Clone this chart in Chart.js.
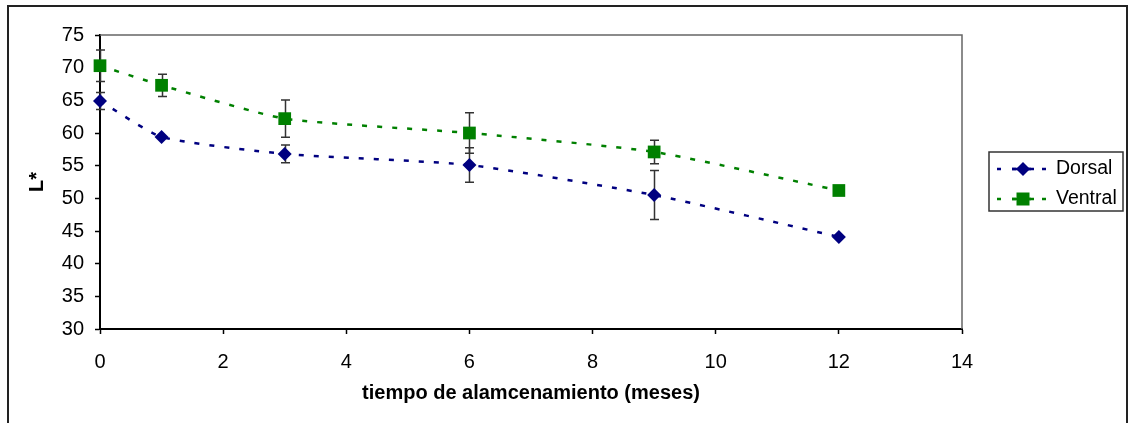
<!DOCTYPE html>
<html lang="es">
<head>
  <meta charset="UTF-8" />
  <title>L* vs tiempo de almacenamiento</title>
  <script src="https://cdn.jsdelivr.net/npm/chart.js"></script>
  <style>
    html, body { margin: 0; padding: 0; background: #fff; }
    #wrap { width: 1128px; height: 423px; position: relative; }
  </style>
</head>
<body>
  <div id="wrap"><canvas id="chart"></canvas></div>

  <script>
    // data
    const months = [0, 1, 3, 6, 9, 12];
    const dorsal = [64.9, 59.4, 56.8, 55.1, 50.5, 44.1];
    const dorsalErr = [1.3, 0, 1.35, 2.65, 3.75, 0];
    const ventral = [70.3, 67.3, 62.2, 60.0, 57.1, 51.2];
    const ventralErr = [2.4, 1.7, 2.85, 3.1, 1.8, 0];
    const seriesNames = ["Dorsal", "Ventral"];
    const seriesColors = ["#000080", "#008000"];
    const xTicks = { min: 0, max: 14, step: 2 };
    const yTicks = { min: 30, max: 75, step: 5 };

    const FONT = "'Liberation Sans', Arial, sans-serif";
    const DASH = [5, 10];

    const toPoints = vals => months.map((m, i) => ({ x: m, y: vals[i] }));

    // draws the error bars under the markers
    const errorBars = {
      id: "errorBars",
      beforeDatasetsDraw(chart) {
        const { ctx, scales: { x, y } } = chart;
        const errs = [dorsalErr, ventralErr];
        const vals = [dorsal, ventral];
        ctx.save();
        ctx.strokeStyle = "#333";
        ctx.lineWidth = 1.5;
        errs.forEach((err, s) => {
          err.forEach((e, i) => {
            if (!e) return;
            const px = Math.round(x.getPixelForValue(months[i])) + 0.5;
            const top = y.getPixelForValue(vals[s][i] + e);
            const bot = y.getPixelForValue(vals[s][i] - e);
            ctx.beginPath();
            ctx.moveTo(px, top); ctx.lineTo(px, bot);
            ctx.moveTo(px - 4.5, top); ctx.lineTo(px + 4.5, top);
            ctx.moveTo(px - 4.5, bot); ctx.lineTo(px + 4.5, bot);
            ctx.stroke();
          });
        });
        ctx.restore();
      }
    };

    // outer frame, plot frame and the boxed legend
    const frame = {
      id: "frame",
      beforeDraw(chart) {
        const { ctx, width, height } = chart;
        ctx.save();
        ctx.fillStyle = "#fff";
        ctx.fillRect(0, 0, width, height);
        ctx.restore();
      },
      beforeDatasetsDraw(chart) {
        const { ctx, chartArea: a } = chart;
        ctx.save();
        ctx.strokeStyle = "#666";
        ctx.lineWidth = 1.5;
        ctx.beginPath();
        ctx.moveTo(a.left, a.top); ctx.lineTo(a.right, a.top); ctx.lineTo(a.right, a.bottom);
        ctx.stroke();
        ctx.restore();
      },
      afterDraw(chart) {
        const { ctx } = chart;
        ctx.save();
        ctx.strokeStyle = "#222";
        ctx.lineWidth = 2;
        ctx.strokeRect(8, 6, 1119, 440);

        // legend
        ctx.strokeStyle = "#333";
        ctx.lineWidth = 1.5;
        ctx.strokeRect(989, 152, 134, 59);
        chart.data.datasets.forEach((ds, i) => {
          const cy = 169 + i * 30;
          ctx.strokeStyle = ds.borderColor;
          ctx.lineWidth = 2.5;
          ctx.setLineDash([4, 11]);
          ctx.beginPath();
          ctx.moveTo(997, cy); ctx.lineTo(1049, cy);
          ctx.stroke();
          ctx.setLineDash([]);
          ctx.beginPath();
          ctx.moveTo(1012, cy); ctx.lineTo(1034, cy);
          ctx.stroke();
          ctx.fillStyle = ds.backgroundColor;
          ctx.beginPath();
          if (ds.pointStyle === "rectRot") {
            ctx.moveTo(1023 - 7, cy); ctx.lineTo(1023, cy - 7);
            ctx.lineTo(1023 + 7, cy); ctx.lineTo(1023, cy + 7);
          } else {
            ctx.rect(1023 - 6.5, cy - 6.5, 13, 13);
          }
          ctx.closePath();
          ctx.fill();
          ctx.fillStyle = "#000";
          ctx.font = "19.5px " + FONT;
          ctx.textBaseline = "middle";
          ctx.textAlign = "left";
          ctx.fillText(ds.label, 1056, cy);
        });
        ctx.restore();
      }
    };

    new Chart(document.getElementById("chart"), {
      type: "line",
      data: {
        datasets: [
          {
            label: seriesNames[0],
            data: toPoints(dorsal),
            borderColor: seriesColors[0],
            backgroundColor: seriesColors[0],
            borderWidth: 2.5,
            borderDash: DASH,
            tension: 0.18,
            clip: false,
            pointStyle: "rectRot",
            pointRadius: 7,
            pointBorderWidth: 0
          },
          {
            label: seriesNames[1],
            data: toPoints(ventral),
            borderColor: seriesColors[1],
            backgroundColor: seriesColors[1],
            borderWidth: 2.5,
            borderDash: DASH,
            tension: 0.18,
            clip: false,
            pointStyle: "rect",
            pointRadius: 9,
            pointBorderWidth: 0
          }
        ]
      },
      options: {
        responsive: true,
        maintainAspectRatio: false,
        animation: false,
        layout: { padding: { top: 35, right: 166, left: 0, bottom: 0 } },
        plugins: {
          legend: { display: false },
          tooltip: { enabled: false }
        },
        scales: {
          x: {
            type: "linear",
            min: xTicks.min,
            max: xTicks.max,
            ticks: { stepSize: xTicks.step, color: "#000", font: { family: FONT, size: 20 }, padding: 16, maxRotation: 0 },
            grid: { drawOnChartArea: false, drawTicks: true, tickLength: 5, tickColor: "#000", tickWidth: 1.5 },
            border: { color: "#000", width: 2 },
            title: {
              display: true,
              text: "tiempo de alamcenamiento (meses)",
              color: "#000",
              font: { family: FONT, size: 20, weight: "bold" },
              padding: { top: 0, bottom: 18 }
            },
            afterFit(scale) { scale.height = 94; }
          },
          y: {
            min: yTicks.min,
            max: yTicks.max,
            ticks: { stepSize: yTicks.step, color: "#000", font: { family: FONT, size: 20 }, padding: 11 },
            grid: { drawOnChartArea: false, drawTicks: true, tickLength: 5, tickColor: "#000", tickWidth: 1.5 },
            border: { color: "#000", width: 2 },
            title: {
              display: true,
              text: "L*",
              color: "#000",
              font: { family: FONT, size: 20, weight: "bold" },
              padding: { top: 25, bottom: 0 }
            },
            afterFit(scale) { scale.width = 100; }
          }
        }
      },
      plugins: [frame, errorBars]
    });
  </script>
</body>
</html>
